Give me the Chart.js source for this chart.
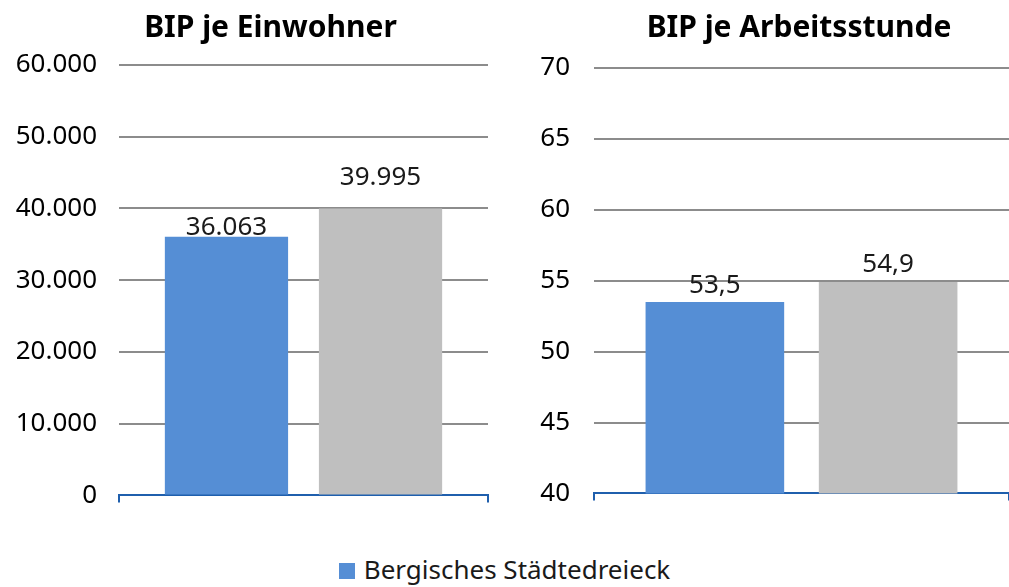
<!DOCTYPE html>
<html>
<head>
<meta charset="utf-8">
<script src="https://cdn.jsdelivr.net/npm/chart.js@4.4.1/dist/chart.umd.min.js"></script>
<style>
  body { margin: 0; background: #fff; width: 1009px; height: 587px; overflow: hidden; font-family: "Noto Sans", sans-serif; }
  #left { position: absolute; left: 0; top: 0; width: 500px; height: 533px; }
  #right { position: absolute; left: 500px; top: 0; width: 509px; height: 533px; }
  .title { position: absolute; top: 11px; font-size: 30px; line-height: 1; font-weight: bold; color: #000; text-align: center; }
  #t1 { left: 0; width: 541px; }
  #t2 { left: 589px; width: 420px; }
  #legend { position: absolute; left: 0; top: 556px; width: 1009px; text-align: center; font-size: 26px; line-height: 1; color: #1a1a1a; }
  #legend span.box { display: inline-block; width: 16px; height: 16px; background: #558ED5; margin-right: 9px; }
</style>
</head>
<body>
<div id="left"><canvas id="c1"></canvas></div>
<div id="right"><canvas id="c2"></canvas></div>
<div class="title" id="t1"></div>
<div class="title" id="t2"></div>
<div id="legend"><span class="box"></span>Bergisches Städtedreieck</div>
<script>
const seriesNames = ["Bergisches Städtedreieck", "Nordrhein-Westfalen"];
const seriesColors = ["#558ED5", "#BFBFBF"];

const titles = ["BIP je Einwohner", "BIP je Arbeitsstunde"];
const perResident = [36063, 39995];
const perHour = [53.5, 54.9];

const axisLeft = { min: 0, max: 60000, step: 10000 };
const axisRight = { min: 40, max: 70, step: 5 };

document.getElementById("t1").textContent = titles[0];
document.getElementById("t2").textContent = titles[1];

const fmt = (v, digits) => v.toLocaleString("de-DE", { minimumFractionDigits: digits, maximumFractionDigits: digits });

// draws the value above each bar
const valueLabels = {
  id: "valueLabels",
  afterDatasetsDraw(chart, args, opts) {
    const ctx = chart.ctx;
    ctx.save();
    ctx.font = "26px 'Noto Sans'";
    ctx.fillStyle = "#1a1a1a";
    ctx.textAlign = "center";
    ctx.textBaseline = "middle";
    chart.data.datasets.forEach((ds, i) => {
      const bar = chart.getDatasetMeta(i).data[0];
      ctx.fillText(fmt(ds.data[0], opts.digits), bar.x, bar.y - opts.offsets[i]);
    });
    ctx.restore();
  }
};

function makeChart(id, values, axis, digits, yWidth, tickPad, offsets, top, right) {
  return new Chart(document.getElementById(id), {
    type: "bar",
    data: {
      labels: [""],
      datasets: values.map((v, i) => ({
        label: seriesNames[i],
        data: [v],
        backgroundColor: seriesColors[i],
        categoryPercentage: 0.835,
        barPercentage: 0.8
      }))
    },
    options: {
      responsive: true,
      maintainAspectRatio: false,
      animation: false,
      layout: { padding: { left: 0, right: right, top: top, bottom: 0 } },
      plugins: {
        legend: { display: false },
        tooltip: { enabled: false },
        title: { display: false },
        valueLabels: { digits: digits, offsets: offsets }
      },
      scales: {
        x: {
          ticks: { display: false },
          grid: { display: true, drawOnChartArea: false, color: "#1F5FAD", lineWidth: 2, tickLength: 7, offset: true },
          border: { display: true, color: "#1F5FAD", width: 2 },
          afterFit(s) { s.height = 36; }
        },
        y: {
          min: axis.min,
          max: axis.max,
          ticks: {
            stepSize: axis.step,
            padding: tickPad,
            color: "#000",
            font: { family: "'Noto Sans'", size: 26 },
            callback: v => fmt(v, 0)
          },
          grid: { color: "#8C8C8C", lineWidth: 2, drawTicks: false },
          border: { display: false },
          afterFit(s) { s.width = yWidth; }
        }
      }
    },
    plugins: [valueLabels]
  });
}

makeChart("c1", perResident, axisLeft, 0, 119, 22, [9, 31], 65, 12);
makeChart("c2", perHour, axisRight, 1, 94, 24, [16, 18], 68, 0);
</script>
</body>
</html>
